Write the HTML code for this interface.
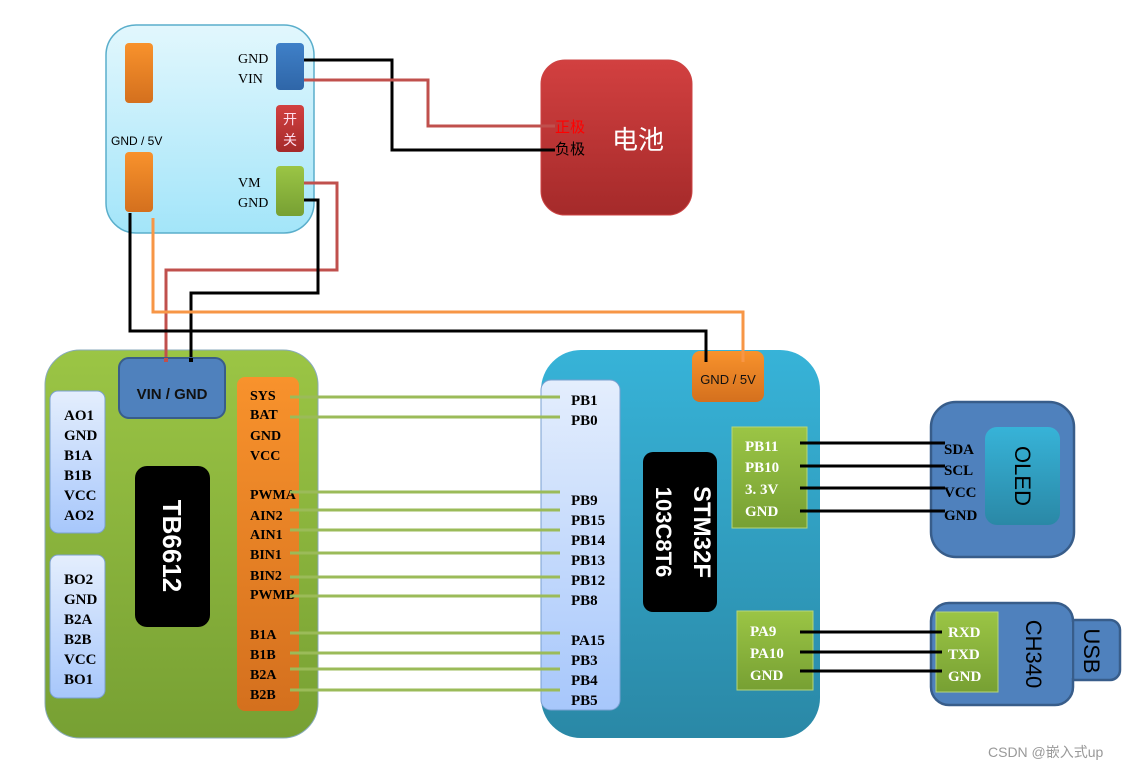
<!DOCTYPE html>
<html><head><meta charset="utf-8"><style>
html,body{margin:0;padding:0;background:#fff;}
svg{display:block;}
.s{font-family:"Liberation Serif","Noto Serif CJK SC",serif;font-weight:bold;font-size:15px;}
.o{font-family:"Liberation Serif","Noto Serif CJK SC",serif;font-weight:bold;font-size:14px;}
.a{font-family:"Liberation Sans","Noto Sans CJK SC",sans-serif;}
</style></head><body>
<svg width="1135" height="770" viewBox="0 0 1135 770" xmlns="http://www.w3.org/2000/svg">
<defs>
<linearGradient id="cy" x1="0" y1="0" x2="0" y2="1"><stop offset="0" stop-color="#e2f7fd"/><stop offset="1" stop-color="#a3e5f9"/></linearGradient>
<linearGradient id="or" x1="0" y1="0" x2="0" y2="1"><stop offset="0" stop-color="#f8922c"/><stop offset="1" stop-color="#d4701e"/></linearGradient>
<linearGradient id="rd" x1="0" y1="0" x2="0" y2="1"><stop offset="0" stop-color="#d24040"/><stop offset="1" stop-color="#a52a2a"/></linearGradient>
<linearGradient id="gr" x1="0" y1="0" x2="0" y2="1"><stop offset="0" stop-color="#9bc545"/><stop offset="1" stop-color="#77a033"/></linearGradient>
<linearGradient id="bl" x1="0" y1="0" x2="0" y2="1"><stop offset="0" stop-color="#3f80c8"/><stop offset="1" stop-color="#2f66a8"/></linearGradient>
<linearGradient id="lb" x1="0" y1="0" x2="0" y2="1"><stop offset="0" stop-color="#e4eefd"/><stop offset="1" stop-color="#a7c7fb"/></linearGradient>
<linearGradient id="st" x1="0" y1="0" x2="0" y2="1"><stop offset="0" stop-color="#37b3d8"/><stop offset="1" stop-color="#2a88a6"/></linearGradient>
</defs>

<!-- top module -->
<rect x="106" y="25" width="208" height="208" rx="30" fill="url(#cy)" stroke="#5aaecb" stroke-width="1.5"/>
<rect x="125" y="43" width="28" height="60" rx="4" fill="url(#or)"/>
<rect x="125" y="152" width="28" height="60" rx="4" fill="url(#or)"/>
<text x="111" y="145" class="a" font-size="12">GND / 5V</text>
<rect x="276" y="43" width="28" height="47" rx="4" fill="url(#bl)"/>
<rect x="276" y="105" width="28" height="47" rx="4" fill="url(#rd)"/>
<text x="290" y="124" class="a" font-size="14" fill="#fde" text-anchor="middle">开</text>
<text x="290" y="145" class="a" font-size="14" fill="#fde" text-anchor="middle">关</text>
<rect x="276" y="166" width="28" height="50" rx="4" fill="url(#gr)"/>
<g font-family="Liberation Serif,serif" font-size="14">
<text x="238" y="63">GND</text><text x="238" y="83">VIN</text>
<text x="238" y="187">VM</text><text x="238" y="207">GND</text></g>

<!-- battery -->
<rect x="541" y="60" width="151" height="155" rx="24" fill="url(#rd)" stroke="#c44" stroke-width="1"/>

<!-- TB6612 board -->
<rect x="45" y="350" width="273" height="388" rx="35" fill="url(#gr)" stroke="#8ab"/>
<!-- STM32 board -->
<rect x="541" y="350" width="279" height="388" rx="40" fill="url(#st)"/>

<!-- wires top -->
<g fill="none" stroke-width="3">
<polyline points="304,60 392,60 392,150 555,150" stroke="#000"/>
<polyline points="304,80 428,80 428,126 555,126" stroke="#c0504d"/>
<polyline points="304,183 337,183 337,270 166,270 166,362" stroke="#c0504d"/>
<polyline points="304,200 318,200 318,293 191,293 191,362" stroke="#000"/>
<polyline points="130,213 130,331 706,331 706,362" stroke="#000"/>
<polyline points="153,218 153,312 743,312 743,362" stroke="#f79646"/>
</g>
<text x="555" y="132" class="a" font-size="15" fill="#f00">正极</text>
<text x="555" y="154" class="a" font-size="15" fill="#000">负极</text>
<text x="612" y="149" class="a" font-size="26" fill="#fff">电池</text>

<!-- TB6612 content -->
<rect x="119" y="358" width="106" height="60" rx="10" fill="#4f81bd" stroke="#385d8a" stroke-width="2"/>
<rect x="164" y="358" width="4" height="4" fill="#c0504d"/><rect x="189" y="358" width="4" height="4" fill="#000"/>
<text x="172" y="399" text-anchor="middle" class="a" font-weight="bold" font-size="15" fill="#111">VIN / GND</text>
<rect x="50" y="391" width="55" height="142" rx="8" fill="url(#lb)" stroke="#7aa0d0"/>
<rect x="50" y="555" width="55" height="143" rx="8" fill="url(#lb)" stroke="#7aa0d0"/>
<g class="s">
<text x="64" y="420">AO1</text><text x="64" y="440">GND</text><text x="64" y="460">B1A</text><text x="64" y="480">B1B</text><text x="64" y="500">VCC</text><text x="64" y="520">AO2</text>
<text x="64" y="584">BO2</text><text x="64" y="604">GND</text><text x="64" y="624">B2A</text><text x="64" y="644">B2B</text><text x="64" y="664">VCC</text><text x="64" y="684">BO1</text>
</g>
<rect x="135" y="466" width="75" height="161" rx="12" fill="#000"/>
<text transform="translate(163,546) rotate(90)" text-anchor="middle" class="a" font-weight="bold" font-size="26" fill="#fff">TB6612</text>
<rect x="237" y="377" width="62" height="334" rx="8" fill="url(#or)"/>
<g class="o">
<text x="250" y="400">SYS</text><text x="250" y="419">BAT</text><text x="250" y="440">GND</text><text x="250" y="460">VCC</text>
<text x="250" y="499">PWMA</text><text x="250" y="520">AIN2</text><text x="250" y="539">AIN1</text><text x="250" y="559">BIN1</text><text x="250" y="580">BIN2</text><text x="250" y="599">PWMB</text>
<text x="250" y="639">B1A</text><text x="250" y="659">B1B</text><text x="250" y="679">B2A</text><text x="250" y="699">B2B</text>
</g>

<!-- STM32 content -->
<rect x="541" y="380" width="79" height="330" rx="10" fill="url(#lb)" stroke="#7aa0d0"/>
<g class="s">
<text x="571" y="405">PB1</text><text x="571" y="425">PB0</text>
<text x="571" y="505">PB9</text><text x="571" y="525">PB15</text><text x="571" y="545">PB14</text><text x="571" y="565">PB13</text><text x="571" y="585">PB12</text><text x="571" y="605">PB8</text>
<text x="571" y="645">PA15</text><text x="571" y="665">PB3</text><text x="571" y="685">PB4</text><text x="571" y="705">PB5</text>
</g>
<rect x="692" y="351" width="72" height="51" rx="8" fill="url(#or)"/>
<line x1="706" y1="351" x2="706" y2="362" stroke="#000" stroke-width="3"/>
<line x1="743" y1="351" x2="743" y2="362" stroke="#f79646" stroke-width="3"/>
<text x="728" y="384" text-anchor="middle" class="a" font-size="13" fill="#111">GND / 5V</text>
<rect x="643" y="452" width="74" height="160" rx="10" fill="#000"/>
<text transform="translate(694,532) rotate(90)" text-anchor="middle" class="a" font-weight="bold" font-size="24" fill="#fff">STM32F</text>
<text transform="translate(656,532) rotate(90)" text-anchor="middle" class="a" font-weight="bold" font-size="22" fill="#fff">103C8T6</text>
<rect x="732" y="427" width="75" height="101" fill="url(#gr)" stroke="#b5d57a"/>
<g class="s" fill="#fff"><text x="745" y="451">PB11</text><text x="745" y="472">PB10</text><text x="745" y="494">3. 3V</text><text x="745" y="516">GND</text></g>
<rect x="737" y="611" width="76" height="79" fill="url(#gr)" stroke="#b5d57a"/>
<g class="s" fill="#fff"><text x="750" y="636">PA9</text><text x="750" y="658">PA10</text><text x="750" y="680">GND</text></g>

<!-- green connectors -->
<g stroke="#9bbb59" stroke-width="3">
<line x1="290" y1="397" x2="560" y2="397"/><line x1="290" y1="417" x2="560" y2="417"/>
<line x1="290" y1="492" x2="560" y2="492"/><line x1="290" y1="510" x2="560" y2="510"/><line x1="290" y1="530" x2="560" y2="530"/><line x1="290" y1="553" x2="560" y2="553"/><line x1="290" y1="577" x2="560" y2="577"/><line x1="290" y1="596" x2="560" y2="596"/>
<line x1="290" y1="633" x2="560" y2="633"/><line x1="290" y1="653" x2="560" y2="653"/><line x1="290" y1="669" x2="560" y2="669"/><line x1="290" y1="690" x2="560" y2="690"/>
</g>

<!-- OLED -->
<rect x="931" y="402" width="143" height="155" rx="25" fill="#4f81bd" stroke="#385d8a" stroke-width="2.5"/>
<rect x="985" y="427" width="75" height="98" rx="12" fill="url(#st)"/>
<text transform="translate(1015,476) rotate(90)" text-anchor="middle" class="a" font-size="22" fill="#000">OLED</text>
<g class="s"><text x="944" y="454">SDA</text><text x="944" y="475">SCL</text><text x="944" y="497">VCC</text><text x="944" y="520">GND</text></g>

<!-- CH340 -->
<rect x="1062" y="620" width="58" height="60" rx="10" fill="#4f81bd" stroke="#385d8a" stroke-width="2.5"/>
<rect x="931" y="603" width="142" height="102" rx="18" fill="#4f81bd" stroke="#385d8a" stroke-width="2.5"/>
<rect x="1062" y="622" width="10" height="56" fill="#4f81bd"/>
<rect x="936" y="612" width="62" height="80" fill="url(#gr)" stroke="#b5d57a"/>
<g class="s" fill="#fff"><text x="948" y="637">RXD</text><text x="948" y="659">TXD</text><text x="948" y="681">GND</text></g>
<text transform="translate(1026,654) rotate(90)" text-anchor="middle" class="a" font-size="22" fill="#000">CH340</text>
<text transform="translate(1084,651) rotate(90)" text-anchor="middle" class="a" font-size="22" fill="#000">USB</text>

<!-- black connectors -->
<g stroke="#000" stroke-width="3">
<line x1="800" y1="443" x2="945" y2="443"/><line x1="800" y1="466" x2="945" y2="466"/><line x1="800" y1="488" x2="945" y2="488"/><line x1="800" y1="511" x2="945" y2="511"/>
<line x1="800" y1="632" x2="942" y2="632"/><line x1="800" y1="652" x2="942" y2="652"/><line x1="800" y1="671" x2="942" y2="671"/>
</g>

<text x="988" y="757" class="a" font-size="14" fill="#999">CSDN @嵌入式up</text>
</svg>
</body></html>
